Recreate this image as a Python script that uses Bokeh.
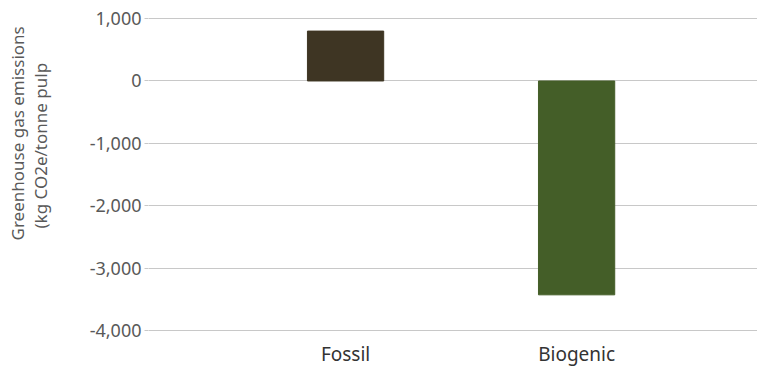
from bokeh.plotting import figure
from bokeh.models import Range1d, FixedTicker, Title, ColumnDataSource, CustomJSTickFormatter
from bokeh.embed import file_html
from bokeh.resources import INLINE

categories = ["Fossil", "Biogenic"]
values = [800, -3430]
colors = ["#3e3523", "#445e28"]
y_ticks = [-4000, -3000, -2000, -1000, 0, 1000]
y_label_lines = ["Greenhouse gas emissions", "(kg CO2e/tonne pulp"]

xs = list(range(len(categories)))
src = ColumnDataSource(dict(x=xs, top=[max(v, 0) for v in values],
                            bottom=[min(v, 0) for v in values], color=colors))

p = figure(frame_width=609, frame_height=318, output_backend="svg", toolbar_location=None,
           x_range=Range1d(-0.853, 1.783), y_range=Range1d(-4050, 1050),
           min_border_left=148, min_border_right=0, min_border_top=15, min_border_bottom=0)
p.outline_line_color = None
p.background_fill_color = "white"
p.border_fill_color = "white"

p.vbar(x="x", top="top", bottom="bottom", width=0.33, color="color", source=src)

p.xgrid.grid_line_color = None
p.ygrid.grid_line_color = "#c8c8c8"
p.ygrid.grid_line_width = 1

p.yaxis.ticker = FixedTicker(ticks=y_ticks)
p.yaxis.formatter = CustomJSTickFormatter(code="return tick.toLocaleString('en-US');")
p.yaxis.axis_line_color = None
p.yaxis.major_tick_line_color = "#c8c8c8"
p.yaxis.major_tick_in = 0
p.yaxis.major_tick_out = 4
p.yaxis.minor_tick_line_color = None
p.yaxis.major_label_text_font = "Noto Sans"
p.yaxis.major_label_text_font_size = "18px"
p.yaxis.major_label_text_color = "#595959"
p.yaxis.major_label_standoff = 3

p.xaxis.ticker = FixedTicker(ticks=xs)
p.xaxis.major_label_overrides = {i: c for i, c in zip(xs, categories)}
p.xaxis.axis_line_color = None
p.xaxis.major_tick_line_color = None
p.xaxis.major_tick_in = 0
p.xaxis.major_tick_out = 0
p.xaxis.minor_tick_line_color = None
p.xaxis.major_label_text_font = "Noto Sans"
p.xaxis.major_label_text_font_size = "19px"
p.xaxis.major_label_text_color = "#333333"
p.xaxis.major_label_standoff = 7

# spacer between tick labels and the axis title
p.add_layout(Title(text=" ", text_font_size="1px", standoff=33), "left")
# line 2 is closest to the axis, line 1 outside it
for line, off, so in [(y_label_lines[1], 105, -3), (y_label_lines[0], 93, 0)]:
    t = Title(text=line, align="left", offset=off,
              text_font="Noto Sans", text_font_size="17px", text_color="#595959",
              text_font_style="normal", standoff=so)
    p.add_layout(t, "left")

open("out.html", "w").write(file_html(p, INLINE))
